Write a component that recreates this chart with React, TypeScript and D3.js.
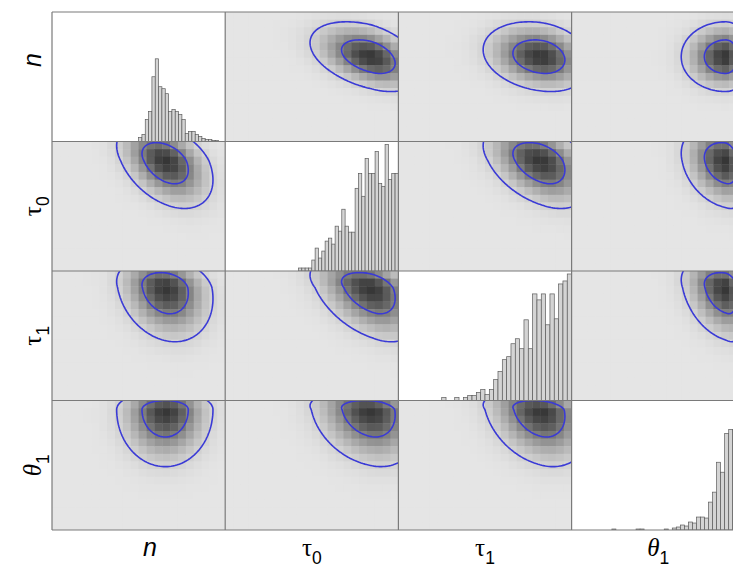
import React from 'react';
import * as d3 from 'd3';

// ---------- data (normalized units 0..1 on every axis) ----------
const varNames = ['n', 'τ0', 'τ1', 'θ1'];
// posterior mode / split standard deviations when variable is on the x axis (columns)
const modeX = [0.655, 0.84, 0.82, 0.89];
const sdLowX = [0.115, 0.143, 0.135, 0.105];
const sdHighX = [0.112, 0.12, 0.12, 0.06];
// same when variable is on the y axis (rows, measured from bottom)
const modeY = [0.655, 0.85, 0.87, 0.93];
const sdLowY = [0.11, 0.15, 0.17, 0.18];
const sdHighY = [0.11, 0.12, 0.1, 0.06];
const corr = [
  [1, -0.4, -0.2, 0],
  [-0.4, 1, -0.4, -0.2],
  [-0.2, -0.4, 1, -0.25],
  [0, -0.2, -0.25, 1],
];
const contourLevels = [0.05, 0.5];

// marginal histograms: number of bins across the axis, first bin index, counts
const histBins = [52, 52, 40, 43];
const histStart = [26, 22, 10, 10];
const histN = [4, 7, 22, 30, 65, 83, 55, 53, 48, 30, 32, 30, 27, 22, 8, 10, 10, 7, 5, 3, 2, 2, 1, 1];
const histTau0 = [3, 3, 3, 3, 11, 23, 13, 20, 30, 33, 27, 45, 40, 62, 45, 39, 39, 83, 98, 75, 113, 98, 98, 120, 88, 85, 127, 92, 98, 98];
const histTau1 = [3, 0, 0, 3, 0, 3, 5, 5, 8, 11, 6, 11, 21, 29, 41, 44, 57, 62, 52, 81, 52, 107, 101, 107, 76, 107, 82, 117, 120, 127];
const histTheta1 = [1, 0, 0, 0, 0, 0, 1, 1, 0, 0, 0, 0, 0, 1, 0, 2, 3, 5, 4, 8, 7, 13, 13, 12, 28, 38, 68, 58, 97, 101, 100, 110, 105];
const histCounts = [histN, histTau0, histTau1, histTheta1];
const histMax = 130;

// ---------- layout ----------
const W = 733, H = 567;
const left = 52, top = 12, cw = 173.2, ch = 129.5;
const blocksX = 22, blocksY = 17;

function density(xv: number, yv: number, jx: number, iy: number) {
  const zx = (xv - modeX[jx]) / (xv < modeX[jx] ? sdLowX[jx] : sdHighX[jx]);
  const zy = (yv - modeY[iy]) / (yv < modeY[iy] ? sdLowY[iy] : sdHighY[iy]);
  const r = corr[iy][jx];
  const q = (zx * zx - 2 * r * zx * zy + zy * zy) / (1 - r * r);
  return Math.exp(-q / 2);
}

const grayLin = d3.scaleLinear<string>().domain([0, 1]).range(['#e5e5e5', '#363636']).clamp(true);
const gray = (d: number) => grayLin(Math.pow(d, 0.75));

function Label({ name, size }: { name: string; size: number }) {
  const main = name[0];
  const sub = name.slice(1);
  const italic = main === 'n' || main === 'θ';
  const fam = main === 'n' ? 'Liberation Sans, Arial, sans-serif' : 'Liberation Serif, Times New Roman, serif';
  return (
    <>
      <tspan fontFamily={fam} fontStyle={italic ? 'italic' : 'normal'} fontSize={size}>{main}</tspan>
      {sub && (
        <tspan fontFamily="Liberation Sans, Arial, sans-serif" fontSize={size * 0.7} dy={size * 0.32}>{sub}</tspan>
      )}
    </>
  );
}

function OffCell({ i, j }: { i: number; j: number }) {
  const x0 = left + j * cw, y0 = top + i * ch;
  const xs = d3.scaleLinear().domain([0, 1]).range([x0, x0 + cw]);
  const ys = d3.scaleLinear().domain([0, 1]).range([y0 + ch, y0]);
  const blocks: JSX.Element[] = [];
  for (let by = 0; by < blocksY; by++) {
    for (let bx = 0; bx < blocksX; bx++) {
      const xa = bx / blocksX, xb = (bx + 1) / blocksX;
      const ya = 1 - (by + 1) / blocksY, yb = 1 - by / blocksY;
      const d = density((xa + xb) / 2, (ya + yb) / 2, j, i);
      blocks.push(
        <rect key={`${bx}-${by}`} x={xs(xa)} y={ys(yb)} width={xs(xb) - xs(xa) + 0.4} height={ys(ya) - ys(yb) + 0.4} fill={gray(d)} />
      );
    }
  }
  // contours on an extended grid so that they are open at the cell edges
  const N = 150, lo = -0.3, hi = 1.3, step = (hi - lo) / (N - 1);
  const vals = new Array(N * N);
  for (let gy = 0; gy < N; gy++) {
    const yv = 1 - (lo + gy * step);
    for (let gx = 0; gx < N; gx++) {
      const xv = lo + gx * step;
      vals[gy * N + gx] = density(xv, yv, j, i);
    }
  }
  const cons = d3.contours().size([N, N]).thresholds(contourLevels)(vals);
  const toX = (g: number) => xs(lo + (g - 0.5) * step);
  const toY = (g: number) => ys(1 - (lo + (g - 0.5) * step));
  const paths = cons.map((c, k) => {
    let dstr = '';
    c.coordinates.forEach((poly) => {
      poly.forEach((ring) => {
        ring.forEach((p, idx) => {
          dstr += (idx === 0 ? 'M' : 'L') + toX(p[0]).toFixed(2) + ',' + toY(p[1]).toFixed(2);
        });
        dstr += 'Z';
      });
    });
    return <path key={k} d={dstr} fill="none" stroke="#3a3ad6" strokeWidth={1.6} />;
  });
  const id = `clip-${i}-${j}`;
  return (
    <g>
      <clipPath id={id}>
        <rect x={x0} y={y0} width={cw} height={ch} />
      </clipPath>
      <g clipPath={`url(#${id})`}>
        <rect x={x0} y={y0} width={cw} height={ch} fill="#e5e5e5" />
        {blocks}
        {paths}
      </g>
    </g>
  );
}

function DiagCell({ k }: { k: number }) {
  const x0 = left + k * cw, y0 = top + k * ch;
  const xs = d3.scaleLinear().domain([0, 1]).range([x0, x0 + cw]);
  const ys = d3.scaleLinear().domain([0, histMax]).range([y0 + ch, y0]);
  const nb = histBins[k];
  const bars = histCounts[k].map((c, idx) => {
    const b = histStart[k] + idx;
    if (c <= 0) return null;
    const xa = xs(b / nb), xb = xs((b + 1) / nb);
    return (
      <rect key={idx} x={xa} y={ys(c)} width={xb - xa} height={ys(0) - ys(c)} fill="#d4d4d4" stroke="#5c5c5c" strokeWidth={0.7} />
    );
  });
  const id = `dclip-${k}`;
  return (
    <g>
      <clipPath id={id}>
        <rect x={x0} y={y0} width={cw} height={ch} />
      </clipPath>
      <rect x={x0} y={y0} width={cw} height={ch} fill="#ffffff" />
      <g clipPath={`url(#${id})`}>{bars}</g>
    </g>
  );
}

export default function App() {
  const cells: JSX.Element[] = [];
  for (let i = 0; i < 4; i++) {
    for (let j = 0; j < 4; j++) {
      cells.push(i === j ? <DiagCell key={`${i}-${j}`} k={i} /> : <OffCell key={`${i}-${j}`} i={i} j={j} />);
    }
  }
  const gridLines: JSX.Element[] = [];
  for (let k = 0; k <= 4; k++) {
    gridLines.push(<line key={`v${k}`} x1={left + k * cw} x2={left + k * cw} y1={top} y2={top + 4 * ch} stroke="#7a7a7a" strokeWidth={1.2} />);
    gridLines.push(<line key={`h${k}`} x1={left} x2={left + 4 * cw} y1={top + k * ch} y2={top + k * ch} stroke="#7a7a7a" strokeWidth={1.2} />);
  }
  const bottomX = [150, left + 1.5 * cw, left + 2.5 * cw, left + 3.5 * cw];
  const leftY = [60, top + 1.5 * ch, top + 2.5 * ch, top + 3.5 * ch];
  return (
    <svg width={W} height={H} style={{ position: 'absolute', left: 0, top: 0, background: '#fff' }}>
      <rect x={0} y={0} width={W} height={H} fill="#fff" />
      {cells}
      {gridLines}
      {varNames.map((v, k) => (
        <text key={`b${k}`} x={bottomX[k]} y={556} textAnchor="middle" fill="#000">
          <Label name={v} size={25} />
        </text>
      ))}
      {varNames.map((v, k) => (
        <text key={`l${k}`} transform={`translate(41,${leftY[k]}) rotate(-90)`} textAnchor="middle" fill="#000">
          <Label name={v} size={25} />
        </text>
      ))}
    </svg>
  );
}
